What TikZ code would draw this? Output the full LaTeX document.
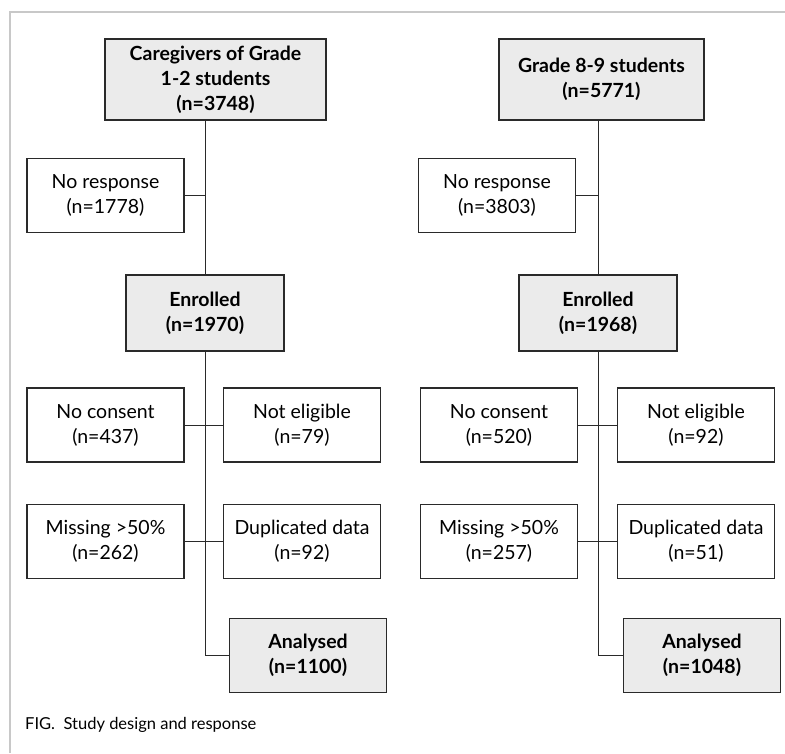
\documentclass[tikz,border=0pt]{standalone}
\usepackage{fontspec}
\setmainfont{Lato}
\definecolor{boxgray}{HTML}{EBEBEB}
\definecolor{framegray}{HTML}{C8C8C8}
\definecolor{linedark}{HTML}{2A2A2A}
\begin{document}
\begin{tikzpicture}[x=1pt,y=-1pt,
  every node/.style={inner sep=0pt,align=center,font=\fontsize{19.5}{25}\selectfont},
  sidebox/.style={draw=linedark,line width=1.1pt,minimum width=157pt,minimum height=74pt},
  mainbox/.style={sidebox,fill=boxgray,font=\fontsize{19.5}{25}\selectfont\bfseries},
  link/.style={draw=linedark,line width=1pt}]
\useasboundingbox (0,0) rectangle (785,753);
% frame
\draw [framegray,line width=1.5pt] (10,753) -- (10,12) -- (785,12);
% left column
\node [mainbox,minimum width=221pt,minimum height=81pt] (top1) at (215.5,79.5) {Caregivers of Grade\\1-2 students\\(n=3748)};
\node [sidebox] (nr1) at (105.5,195.5) {No response\\(n=1778)};
\node [mainbox,minimum width=158pt,minimum height=76pt] (en1) at (205,313) {Enrolled\\(n=1970)};
\node [sidebox] (nc1) at (105.5,425) {No consent\\(n=437)};
\node [sidebox] (ne1) at (302,425) {Not eligible\\(n=79)};
\node [sidebox] (ms1) at (105.5,541.5) {Missing >50\%\\(n=262)};
\node [sidebox] (dp1) at (302,541.5) {Duplicated data\\(n=92)};
\node [mainbox] (an1) at (308,655.5) {Analysed\\(n=1100)};
\draw [link] (top1.south -| en1.north) -- (en1.north);
\draw [link] (nr1.east) -- (nr1.east -| en1.north);
\draw [link] (en1.south) |- (an1.west);
\draw [link] (nc1.east) -- (ne1.west);
\draw [link] (ms1.east) -- (dp1.west);
% right column
\node [mainbox,minimum width=205pt,minimum height=81pt] (top2) at (601.5,79.5) {Grade 8-9 students\\(n=5771)};
\node [sidebox] (nr2) at (497,195.5) {No response\\(n=3803)};
\node [mainbox,minimum width=158pt,minimum height=76pt] (en2) at (598,313) {Enrolled\\(n=1968)};
\node [sidebox] (nc2) at (499,425) {No consent\\(n=520)};
\node [sidebox] (ne2) at (696,425) {Not eligible\\(n=92)};
\node [sidebox] (ms2) at (499,541.5) {Missing >50\%\\(n=257)};
\node [sidebox] (dp2) at (696,541.5) {Duplicated data\\(n=51)};
\node [mainbox] (an2) at (702,655.5) {Analysed\\(n=1048)};
\draw [link] (top2.south -| en2.north) -- (en2.north);
\draw [link] (nr2.east) -- (nr2.east -| en2.north);
\draw [link] (en2.south) |- (an2.west);
\draw [link] (nc2.east) -- (ne2.west);
\draw [link] (ms2.east) -- (dp2.west);
% caption
\node [anchor=west,font=\fontsize{16.5}{20}\selectfont] (cap) at (25,725) {FIG.\ \ Study design and response};
\end{tikzpicture}
\end{document}
